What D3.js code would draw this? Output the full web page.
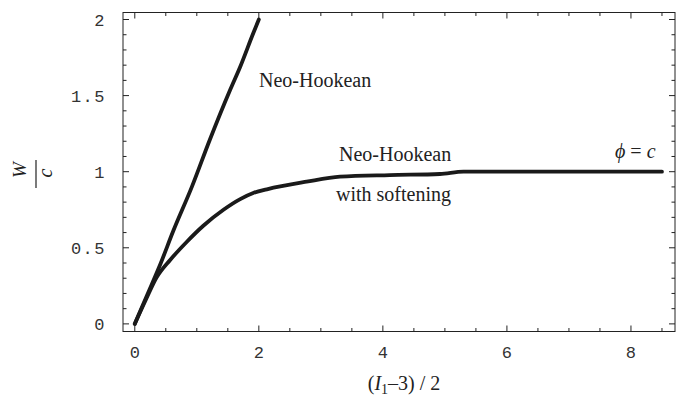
<!DOCTYPE html>
<html><head><meta charset="utf-8">
<script src="https://cdn.jsdelivr.net/npm/d3@7"></script>
<style>html,body{margin:0;padding:0;background:#fff;}</style>
</head><body>
<svg id="c" width="681" height="403"></svg>
<script>
// Data
const neoX = [0, 0.2, 0.41, 0.62, 0.92, 1.21, 1.54, 1.70, 1.91, 2.0];
const neoY = [0, 0.19, 0.39, 0.61, 0.90, 1.21, 1.54, 1.69, 1.91, 2.0];
const softX = [0, 0.18, 0.355, 0.57, 0.84, 1.105, 1.43, 1.70, 1.91, 2.13, 2.77, 3.31, 4.11, 4.92, 5.3, 6.5, 8.5];
const softY = [0, 0.16, 0.307, 0.42, 0.54, 0.645, 0.75, 0.82, 0.86, 0.884, 0.934, 0.967, 0.978, 0.985, 1.0, 1.0, 1.0];
const xTickLabels = [0, 2, 4, 6, 8];
const yTickLabels = [0, 0.5, 1, 1.5, 2];

const svg = d3.select("#c");
const pL = 123, pR = 675, pT = 12.5, pB = 331.5;
const x = d3.scaleLinear().domain([-0.19, 8.71]).range([pL, pR]);
const y = d3.scaleLinear().domain([-0.05, 2.046]).range([pB, pT]);

const ink = "#222";
// Frame
svg.append("rect").attr("x", pL).attr("y", pT).attr("width", pR - pL).attr("height", pB - pT)
  .attr("fill", "none").attr("stroke", ink).attr("stroke-width", 1);

const xMinor = d3.range(0, 8.51, 0.5);
const yMinor = d3.range(0, 2.001, 0.1).map(v => +v.toFixed(2));
const isMajX = v => Math.abs(v / 2 - Math.round(v / 2)) < 1e-6;
const isMajY = v => Math.abs(v / 0.5 - Math.round(v / 0.5)) < 1e-6;

const t = svg.append("g").attr("stroke", ink).attr("stroke-width", 1);
xMinor.forEach(v => {
  const L = isMajX(v) ? 6 : 3.5;
  t.append("line").attr("x1", x(v)).attr("x2", x(v)).attr("y1", pB).attr("y2", pB - L);
  t.append("line").attr("x1", x(v)).attr("x2", x(v)).attr("y1", pT).attr("y2", pT + L);
});
yMinor.forEach(v => {
  const L = isMajY(v) ? 6 : 3.5;
  t.append("line").attr("y1", y(v)).attr("y2", y(v)).attr("x1", pL).attr("x2", pL + L);
  t.append("line").attr("y1", y(v)).attr("y2", y(v)).attr("x1", pR).attr("x2", pR - L);
});

// Tick labels
const mono = "'Liberation Mono', 'DejaVu Sans Mono', monospace";
svg.append("g").selectAll("text").data(xTickLabels).join("text")
  .attr("x", d => x(d)).attr("y", 358).attr("text-anchor", "middle")
  .attr("font-family", mono).attr("font-size", 17).attr("fill", "#333")
  .text(d => d);
svg.append("g").selectAll("text").data(yTickLabels).join("text")
  .attr("x", 106).attr("y", d => y(d) + 6).attr("text-anchor", "end")
  .attr("font-family", mono).attr("font-size", 17).attr("fill", "#333")
  .attr("letter-spacing", 1.5)
  .text(d => String(d));

// Curves
const line = d3.line().x(d => x(d[0])).y(d => y(d[1])).curve(d3.curveMonotoneX);
svg.append("path").datum(neoX.map((v, i) => [v, neoY[i]])).attr("d", line)
  .attr("fill", "none").attr("stroke", "#1a1a1a").attr("stroke-width", 3.8)
  .attr("stroke-linecap", "round").attr("stroke-linejoin", "round");
svg.append("path").datum(softX.map((v, i) => [v, softY[i]])).attr("d", line)
  .attr("fill", "none").attr("stroke", "#1a1a1a").attr("stroke-width", 3.8)
  .attr("stroke-linecap", "round").attr("stroke-linejoin", "round");

// Annotations
const serif = "'Liberation Serif', 'DejaVu Serif', serif";
const ann = (tx, ax, ay) => svg.append("text").attr("x", ax).attr("y", ay)
  .attr("font-family", serif).attr("font-size", 20).attr("fill", "#222").text(tx);
ann("Neo-Hookean", 259, 87);
ann("Neo-Hookean", 339, 161);
ann("with softening", 336, 201);

const phi = svg.append("text").attr("x", 615).attr("y", 158)
  .attr("font-family", serif).attr("font-size", 20).attr("fill", "#222");
phi.append("tspan").attr("font-style", "italic").text("\u03D5");
phi.append("tspan").text(" = ");
phi.append("tspan").attr("font-style", "italic").text("c");

// X axis label
const xl = svg.append("text").attr("x", 404).attr("y", 390).attr("text-anchor", "middle")
  .attr("font-family", serif).attr("font-size", 20).attr("fill", "#222");
xl.append("tspan").text("(");
xl.append("tspan").attr("font-style", "italic").text("I");
xl.append("tspan").attr("font-size", 14).attr("dy", 4).text("1");
xl.append("tspan").attr("dy", -4).text("\u2013" + "3) / 2");

// Y axis label (fraction W / c, rotated)
const yl = svg.append("g").attr("transform", "translate(36,174) rotate(-90)");
yl.append("line").attr("x1", -14).attr("x2", 14).attr("y1", 0).attr("y2", 0)
  .attr("stroke", "#222").attr("stroke-width", 1.2);
yl.append("text").attr("x", 4).attr("y", -10).attr("text-anchor", "middle")
  .attr("font-family", serif).attr("font-style", "italic").attr("font-size", 19).attr("fill", "#222").text("W");
yl.append("text").attr("x", 1).attr("y", 15.5).attr("text-anchor", "middle")
  .attr("font-family", serif).attr("font-style", "italic").attr("font-size", 20).attr("fill", "#222").text("c");
</script>
</body></html>
